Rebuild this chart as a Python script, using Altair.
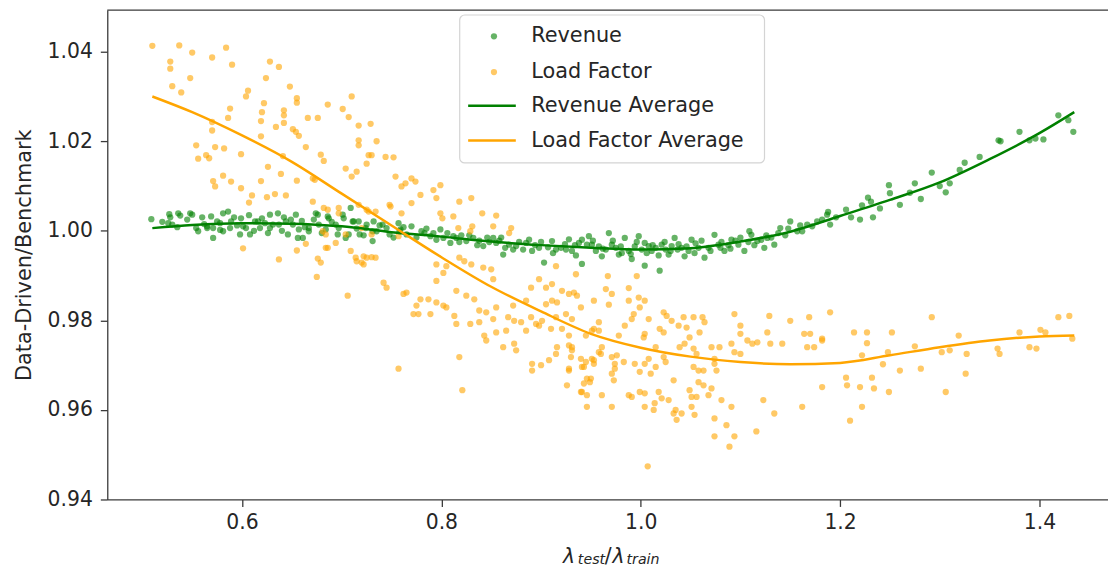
import altair as alt
import pandas as pd

# ---------------- data ----------------
rev_x = [0.509, 0.527, 0.528, 0.536, 0.538, 0.548, 0.550, 0.526, 0.530, 0.554, 0.556, 0.569, 0.571, 0.571,
         0.565, 0.581, 0.586, 0.578, 0.581, 0.588, 0.589, 0.599, 0.598, 0.608, 0.604, 0.613, 0.618, 0.623,
         0.628, 0.636, 0.628, 0.637, 0.644, 0.649, 0.651, 0.654, 0.657, 0.646, 0.656, 0.667, 0.676, 0.677,
         0.686, 0.684, 0.694, 0.696, 0.701, 0.704, 0.711, 0.718, 0.724, 0.731, 0.731, 0.741, 0.748, 0.758,
         0.709, 0.565, 0.575, 0.601, 0.616, 0.631, 0.661, 0.667, 0.674, 0.687, 0.697, 0.707, 0.712,
         0.702, 0.717, 0.725, 0.732, 0.735, 0.745, 0.757, 0.759, 0.765, 0.770, 0.780, 0.789, 0.799, 0.802,
         0.809, 0.815, 0.825, 0.832, 0.842, 0.852, 0.855, 0.862, 0.868, 0.875, 0.885, 0.891, 0.898, 0.903,
         0.911, 0.920, 0.928, 0.931, 0.941, 0.938, 0.946,
         0.941, 0.948, 0.951, 0.955, 0.961, 0.968, 0.971, 0.978, 0.984, 0.988, 0.991, 0.998, 1.004, 1.004,
         1.011, 1.019, 1.021, 1.028, 1.034, 1.037, 1.044, 1.051, 1.058, 1.064, 1.074, 1.078, 1.084, 1.091,
         1.098, 1.104, 1.111, 1.117, 1.124, 1.134, 1.140, 1.150, 1.157, 1.167, 1.177, 1.187,
         1.162, 1.127, 1.109, 1.188, 1.190, 1.182, 1.206, 1.211, 1.220, 1.233, 1.222, 1.228, 1.231, 1.249,
         1.250, 1.260, 1.275, 1.281, 1.306, 1.310, 1.325, 1.320, 1.292, 1.359, 1.361, 1.380, 1.390, 1.396,
         1.404, 1.419, 1.429, 1.434,
         0.785, 0.792, 0.806, 0.812, 0.820, 0.838, 0.846, 0.858, 0.864, 0.878, 0.882, 0.894, 0.907, 0.915,
         0.924, 0.934, 0.958, 0.965, 0.975, 0.981, 0.994, 1.001, 1.008, 1.015, 1.025, 1.031, 1.041, 1.048,
         1.055, 1.068, 1.081, 1.088, 1.095, 1.108, 1.121, 1.131, 1.145,
         0.520, 0.535, 0.545, 0.560, 0.562, 0.578, 0.592, 0.595, 0.607, 0.612, 0.620, 0.626, 0.640, 0.642,
         0.660, 0.663, 0.672, 0.680, 0.690, 0.715, 0.722, 0.738, 0.752, 0.762, 0.775, 0.783, 0.795, 0.818,
         0.828, 0.836, 0.848, 0.860, 0.872, 0.888, 0.900, 0.912, 0.925, 0.935, 0.952, 0.962, 0.972, 0.980,
         0.990, 0.996, 1.006, 1.012, 1.018, 1.024, 1.030, 1.038, 1.046, 1.054, 1.061, 1.070, 1.080, 1.090,
         1.100, 1.114, 1.126, 1.138, 1.148, 1.160, 1.172, 1.196, 1.240, 1.270, 1.300, 1.340]
rev_y = [1.0026, 1.0037, 1.0030, 1.0039, 1.0034, 1.0039, 1.0036, 1.0017, 1.0014, 1.0006, 0.9999, 1.0032, 1.0006, 0.9984,
         1.0006, 1.0039, 1.0043, 1.0017, 0.9999, 1.0006, 1.0021, 1.0028, 0.9992, 0.9992, 1.0006, 1.0021, 1.0006, 1.0017,
         1.0036, 1.0039, 1.0006, 1.0014, 1.0021, 1.0025, 1.0014, 1.0036, 1.0003, 0.9992, 0.9984, 0.9999, 1.0036, 1.0014,
         1.0032, 1.0003, 1.0014, 0.9992, 1.0036, 0.9984, 1.0021, 0.9992, 1.0006, 0.9999, 0.9977, 1.0014, 0.9992, 0.9999,
         1.0051, 1.0010, 1.0021, 1.0010, 1.0021, 1.0014, 0.9984, 1.0006, 1.0039, 1.0028, 1.0006, 0.9992, 1.0021,
         1.0028, 1.0021, 1.0014, 1.0021, 0.9999, 1.0006, 1.0017, 1.0003, 0.9992, 1.0010, 0.9999, 0.9988, 1.0003, 0.9984,
         0.9973, 0.9984, 0.9977, 0.9984, 0.9966, 0.9984, 0.9973, 0.9947, 0.9969, 0.9966, 0.9973, 0.9955, 0.9962, 0.9929,
         0.9977, 0.9962, 0.9981, 0.9955, 0.9926, 0.9973, 0.9969,
         0.9980, 0.9988, 0.9969, 0.9955, 0.9943, 0.9995, 0.9969, 0.9947, 0.9984, 0.9955, 0.9937, 0.9988, 0.9973, 0.9922,
         0.9955, 0.9911, 0.9969, 0.9947, 0.9984, 0.9958, 0.9943, 0.9980, 0.9962, 0.9940, 0.9991, 0.9969, 0.9955, 0.9980,
         0.9969, 0.9955, 0.9991, 0.9977, 0.9962, 0.9969, 1.0006, 1.0021, 0.9999, 1.0014, 1.0021, 1.0036,
         0.9999, 0.9984, 0.9999, 1.0042, 1.0014, 1.0025, 1.0047, 1.0030, 1.0025, 1.0030, 1.0057, 1.0074, 1.0065, 1.0102,
         1.0084, 1.0058, 1.0106, 1.0071, 1.0086, 1.0106, 1.0152, 1.0136, 1.0130, 1.0202, 1.0200, 1.0221, 1.0202, 1.0206,
         1.0204, 1.0258, 1.0247, 1.0221,
         1.0005, 0.9995, 0.9995, 0.9988, 0.9990, 0.9978, 0.9985, 0.9978, 0.9962, 0.9975, 0.9958, 0.9968, 0.9963, 0.9958,
         0.9970, 0.9968, 0.9965, 0.9958, 0.9962, 0.9950, 0.9965, 0.9958, 0.9966, 0.9962, 0.9958, 0.9966, 0.9962, 0.9955,
         0.9972, 0.9962, 0.9975, 0.9968, 0.9978, 0.9975, 0.9980, 0.9985, 0.9990,
         1.0020, 1.0008, 1.0025, 1.0030, 1.0015, 1.0002, 1.0030, 1.0012, 1.0035, 1.0000, 1.0028, 0.9995, 1.0000, 1.0030,
         1.0022, 1.0008, 1.0025, 0.9995, 1.0020, 1.0005, 0.9990, 1.0012, 0.9985, 1.0008, 0.9985, 0.9995, 0.9980, 0.9975,
         0.9990, 0.9968, 0.9975, 0.9985, 0.9958, 0.9980, 0.9975, 0.9950, 0.9958, 0.9945, 0.9978, 0.9960, 0.9978, 0.9965,
         0.9948, 0.9975, 0.9950, 0.9968, 0.9945, 0.9975, 0.9955, 0.9970, 0.9965, 0.9950, 0.9978, 0.9955, 0.9962, 0.9960,
         0.9985, 0.9968, 0.9990, 0.9995, 1.0005, 1.0012, 1.0010, 1.0030, 1.0050, 1.0085, 1.0100, 1.0165]

lf_x = [0.510, 0.537, 0.550, 0.570, 0.584, 0.590, 0.528, 0.528, 0.548, 0.530, 0.539, 0.628, 0.637, 0.624,
        0.648, 0.606, 0.604, 0.655, 0.655, 0.622, 0.686, 0.588, 0.586, 0.620, 0.619, 0.642, 0.642, 0.642,
        0.666, 0.676, 0.701, 0.707, 0.634, 0.651, 0.654, 0.657, 0.570, 0.570, 0.619, 0.554, 0.556, 0.564,
        0.573, 0.582, 0.567, 0.599, 0.641, 0.664, 0.679, 0.682, 0.626, 0.639, 0.704, 0.710, 0.581, 0.589,
        0.571, 0.573, 0.599, 0.619, 0.655, 0.673, 0.610, 0.607, 0.625, 0.633, 0.644, 0.671, 0.601, 0.637,
        0.655, 0.676, 0.664, 0.684, 0.709, 0.686, 0.697, 0.710, 0.717, 0.729, 0.735, 0.717, 0.717, 0.727,
        0.744, 0.752, 0.715, 0.671, 0.754, 0.748, 0.725, 0.730, 0.742, 0.745, 0.706, 0.675, 0.679, 0.715,
        0.722, 0.757, 0.730, 0.725, 0.764, 0.760, 0.770, 0.774, 0.779, 0.799, 0.792, 0.795, 0.770, 0.749,
        0.760, 0.725, 0.734, 0.818, 0.830, 0.799, 0.801, 0.812, 0.841, 0.855, 0.817, 0.831, 0.829, 0.852,
        0.870, 0.868, 0.714, 0.722, 0.795, 0.805, 0.802, 0.818, 0.823, 0.830, 0.842, 0.795, 0.850, 0.852,
        0.765, 0.762, 0.779, 0.775, 0.772, 0.777, 0.787, 0.795, 0.802, 0.805, 0.789, 0.815, 0.825, 0.833,
        0.813, 0.815, 0.829, 0.838, 0.845, 0.852, 0.838, 0.867, 0.873, 0.880, 0.890, 0.895, 0.898, 0.885,
        0.872, 0.855, 0.898, 0.905, 0.911, 0.890, 0.915, 0.935, 0.921, 0.928, 0.936, 0.905, 0.916, 0.915,
        0.931, 0.940, 0.843, 0.845, 0.855, 0.865, 0.862, 0.873, 0.875, 0.885, 0.891, 0.900, 0.891, 0.908,
        0.916, 0.915, 0.928, 0.931, 0.928, 0.941, 0.943, 0.946, 0.926, 0.818, 0.821,
        0.967, 0.996, 0.965, 0.971, 0.988, 0.953, 0.968, 0.988, 0.998, 1.004, 0.999, 0.993, 0.991, 1.008,
        0.958, 0.953, 0.958, 0.984, 0.978, 1.004, 1.003, 1.023, 1.026, 1.031, 1.038, 1.019, 1.023, 1.043,
        1.046, 1.053, 1.062, 1.064, 1.049, 1.059, 1.094, 1.100, 1.100, 1.107, 1.112, 1.117, 1.129, 1.127,
        1.130, 1.142, 1.150, 1.169, 1.164, 1.170, 1.167, 1.174, 1.182, 1.091, 1.094, 1.100, 1.071, 1.079,
        1.074, 1.074, 1.076, 1.053, 1.056, 1.053, 1.058, 1.063, 1.058, 1.063, 1.039, 1.044, 1.015, 1.008,
        1.004, 1.015, 1.010, 1.023, 1.025, 0.994, 0.999, 0.961, 0.960, 0.951, 0.945, 0.943, 0.953, 0.976,
        0.974, 0.971, 0.973, 0.983, 0.946, 0.949, 1.033, 0.941, 0.961, 0.946, 0.971, 0.988, 0.999, 1.004,
        1.013, 1.018, 1.028, 1.035, 1.036, 1.049, 1.056, 1.054, 1.068, 1.071, 1.081, 1.091, 1.074, 1.086,
        1.074, 1.094, 1.089, 1.116, 1.123, 1.134, 1.162, 1.182, 1.007,
        1.190, 1.182, 1.214, 1.227, 1.252, 1.227, 1.222, 1.248, 1.275, 1.292, 1.302, 1.310, 1.327, 1.319,
        1.243, 1.260, 1.281, 1.206, 1.207, 1.220, 1.232, 1.234, 1.249, 1.222, 1.210, 1.326, 1.306, 1.358,
        1.360, 1.380, 1.390, 1.397, 1.401, 1.406, 1.419, 1.430, 1.433,
        0.682, 0.697, 0.717, 0.727, 0.686, 0.694, 0.720, 0.734, 0.681, 0.684, 0.704, 0.720, 0.730, 0.757,
        0.940, 0.928, 0.950, 0.953, 0.958, 0.971, 0.974, 1.051, 1.051, 1.041, 1.033, 1.021, 1.014, 1.004,
        0.991, 0.945, 0.951, 0.940, 0.928, 0.921, 0.910, 0.931, 0.930, 0.901, 0.911, 0.933, 0.925]
lf_y = [1.0413, 1.0414, 1.0398, 1.0387, 1.0409, 1.0371, 1.0378, 1.0362, 1.0341, 1.0323, 1.0309, 1.0378, 1.0366, 1.0341,
        1.0322, 1.0313, 1.0300, 1.0296, 1.0286, 1.0285, 1.0282, 1.0273, 1.0252, 1.0265, 1.0245, 1.0269, 1.0258, 1.0241,
        1.0252, 1.0252, 1.0272, 1.0254, 1.0232, 1.0227, 1.0221, 1.0212, 1.0243, 1.0224, 1.0211, 1.0191, 1.0161, 1.0169,
        1.0187, 1.0184, 1.0162, 1.0171, 1.0167, 1.0187, 1.0170, 1.0156, 1.0143, 1.0127, 1.0139, 1.0121, 1.0123, 1.0110,
        1.0111, 1.0099, 1.0095, 1.0111, 1.0112, 1.0114, 1.0079, 1.0063, 1.0075, 1.0082, 1.0079, 1.0065, 0.9961, 0.9936,
        0.9956, 0.9938, 0.9971, 0.9962, 0.9955, 1.0047, 1.0039, 1.0300, 1.0235, 1.0239, 1.0200, 1.0202, 1.0191, 1.0169,
        1.0165, 1.0164, 1.0132, 1.0117, 1.0121, 1.0058, 0.9940, 0.9941, 0.9884, 0.9873, 0.9855, 0.9897, 0.9929, 0.9932,
        0.9925, 0.9692, 1.0169, 1.0150, 1.0106, 1.0099, 1.0117, 1.0110, 1.0080, 1.0102, 1.0091, 1.0073, 1.0062, 1.0054,
        1.0039, 1.0047, 1.0043, 1.0065, 1.0073, 1.0039, 1.0028, 1.0032, 1.0039, 1.0034, 1.0006, 1.0010, 0.9999, 1.0010,
        1.0006, 0.9995, 0.9940, 0.9943, 0.9925, 0.9921, 0.9906, 0.9940, 0.9932, 0.9925, 0.9918, 0.9888, 0.9914, 0.9892,
        0.9862, 0.9859, 0.9847, 0.9833, 0.9814, 0.9814, 0.9847, 0.9840, 0.9833, 0.9829, 0.9814, 0.9866, 0.9855, 0.9847,
        0.9810, 0.9792, 0.9792, 0.9796, 0.9818, 0.9803, 0.9822, 0.9807, 0.9799, 0.9796, 0.9807, 0.9792, 0.9788, 0.9844,
        0.9833, 0.9829, 0.9892, 0.9873, 0.9881, 0.9873, 0.9921, 0.9903, 0.9866, 0.9859, 0.9855, 0.9836, 0.9840, 0.9807,
        0.9803, 0.9829, 0.9766, 0.9755, 0.9773, 0.9777, 0.9740, 0.9748, 0.9733, 0.9777, 0.9703, 0.9700, 0.9688, 0.9711,
        0.9740, 0.9725, 0.9744, 0.9733, 0.9688, 0.9696, 0.9659, 0.9633, 0.9655, 0.9718, 0.9644,
        0.9899, 0.9899, 0.9870, 0.9859, 0.9872, 0.9844, 0.9835, 0.9844, 0.9851, 0.9844, 0.9829, 0.9814, 0.9803, 0.9803,
        0.9796, 0.9781, 0.9777, 0.9788, 0.9766, 0.9770, 0.9762, 0.9818, 0.9810, 0.9799, 0.9788, 0.9781, 0.9773, 0.9807,
        0.9784, 0.9807, 0.9807, 0.9796, 0.9762, 0.9773, 0.9814, 0.9788, 0.9770, 0.9755, 0.9748, 0.9751, 0.9810, 0.9773,
        0.9748, 0.9748, 0.9799, 0.9807, 0.9770, 0.9770, 0.9740, 0.9740, 0.9755, 0.9748, 0.9729, 0.9725, 0.9740, 0.9740,
        0.9714, 0.9703, 0.9688, 0.9737, 0.9725, 0.9696, 0.9688, 0.9688, 0.9662, 0.9655, 0.9740, 0.9748, 0.9740, 0.9714,
        0.9703, 0.9696, 0.9681, 0.9718, 0.9707, 0.9703, 0.9685, 0.9740, 0.9725, 0.9714, 0.9707, 0.9696, 0.9703, 0.9722,
        0.9703, 0.9681, 0.9666, 0.9707, 0.9670, 0.9662, 0.9666, 0.9640, 0.9633, 0.9607, 0.9607, 0.9633, 0.9640, 0.9607,
        0.9600, 0.9640, 0.9622, 0.9600, 0.9578, 0.9644, 0.9629, 0.9589, 0.9633, 0.9648, 0.9622, 0.9607, 0.9581, 0.9566,
        0.9541, 0.9541, 0.9518, 0.9552, 0.9622, 0.9592, 0.9607, 0.9651, 0.9474,
        0.9818, 0.9759, 0.9773, 0.9773, 0.9773, 0.9749, 0.9722, 0.9729, 0.9742, 0.9807, 0.9729, 0.9733, 0.9725, 0.9766,
        0.9702, 0.9688, 0.9692, 0.9672, 0.9655, 0.9651, 0.9672, 0.9648, 0.9640, 0.9607, 0.9576, 0.9681, 0.9640, 0.9737,
        0.9725, 0.9773, 0.9740, 0.9737, 0.9779, 0.9773, 0.9807, 0.9810, 0.9759,
        1.0051, 1.0051, 1.0058, 1.0043, 0.9962, 0.9973, 0.9929, 0.9940, 0.9999, 0.9992, 0.9992, 1.0006, 0.9992, 0.9988,
        0.9640, 0.9692, 0.9670, 0.9711, 0.9729, 0.9718, 0.9692, 0.9629, 0.9607, 0.9592, 0.9592, 0.9626, 0.9615, 0.9637,
        0.9629, 0.9766, 0.9777, 0.9714, 0.9766, 0.9781, 0.9781, 0.9740, 0.9718, 0.9799, 0.9844, 0.9862, 0.9814]

avg_x = [0.51, 0.55, 0.60, 0.65, 0.70, 0.75, 0.80, 0.85, 0.90, 0.95, 1.00,
         1.05, 1.10, 1.15, 1.20, 1.25, 1.30, 1.35, 1.40, 1.435]
rev_avg = [1.0006, 1.0013, 1.0017, 1.0016, 1.0010, 0.9997, 0.9987, 0.9976, 0.9968, 0.9962, 0.9958,
           0.9961, 0.9976, 0.9998, 1.0033, 1.0069, 1.0108, 1.0160, 1.0218, 1.0265]
lf_avg = [1.0300, 1.0265, 1.0213, 1.0154, 1.0083, 1.0012, 0.9941, 0.9875, 0.9820, 0.9770, 0.9739,
          0.9719, 0.9707, 0.9702, 0.9705, 0.9722, 0.9740, 0.9755, 0.9764, 0.9766]

x_ticks = [0.6, 0.8, 1.0, 1.2, 1.4]
y_ticks = [0.94, 0.96, 0.98, 1.00, 1.02, 1.04]

point_series = ["Revenue", "Load Factor"]
line_series = ["Revenue Average", "Load Factor Average"]
series_colors = ["green", "orange"]

# ---------------- tables ----------------
pts = pd.DataFrame({
    "x": rev_x + lf_x,
    "y": rev_y + lf_y,
    "series": [point_series[0]] * len(rev_x) + [point_series[1]] * len(lf_x),
})
avg = pd.DataFrame({
    "x": avg_x + avg_x,
    "y": rev_avg + lf_avg,
    "series": [line_series[0]] * len(avg_x) + [line_series[1]] * len(avg_x),
})

W, H = 1008, 493
FONT = "DejaVu Sans"
TXT = "#262626"
SPINE = "#3a3a3a"

xs = alt.Scale(domain=[0.4648, 1.4688], nice=False, zero=False)
ys = alt.Scale(domain=[0.94, 1.0493], nice=False, zero=False)

x_enc = alt.X("x:Q", scale=xs,
              axis=alt.Axis(values=x_ticks, format=".1f", title=None))
y_enc = alt.Y("y:Q", scale=ys,
              axis=alt.Axis(values=y_ticks, format=".2f", title="Data-Driven/Benchmark",
                            titlePadding=13))

points = alt.Chart(pts).mark_circle(size=40, opacity=0.6).encode(
    x=x_enc, y=y_enc,
    fill=alt.Fill("series:N",
                  scale=alt.Scale(domain=point_series, range=series_colors),
                  legend=alt.Legend(orient="none", legendX=379, legendY=16, title=None,
                                    padding=0, symbolType="circle", symbolSize=40,
                                    symbolOpacity=0.6, symbolStrokeWidth=0,
                                    labelOffset=27, rowPadding=14, labelLimit=0,
                                    labelFontSize=21, labelFont=FONT, labelColor=TXT)),
)

lines = alt.Chart(avg).mark_line(strokeWidth=2.5, interpolate="monotone").encode(
    x=x_enc, y=y_enc,
    stroke=alt.Stroke("series:N",
                      scale=alt.Scale(domain=line_series, range=series_colors),
                      legend=alt.Legend(orient="none", legendX=376, legendY=85, title=None,
                                        padding=0, symbolType="M-2.4,0L2.4,0", symbolSize=400,
                                        symbolStrokeWidth=2.5, labelLimit=0,
                                        labelOffset=28, rowPadding=13,
                                        labelFontSize=21, labelFont=FONT, labelColor=TXT)),
)

one = pd.DataFrame({"k": [0]})

legend_box = alt.Chart(one).mark_rect(
    cornerRadius=5, fill="white", fillOpacity=0.8, stroke="#d4d4d4", strokeWidth=1.2
).encode(x=alt.value(355), x2=alt.value(662), y=alt.value(5), y2=alt.value(154))

top_spine = alt.Chart(one).mark_rule(color=SPINE, strokeWidth=1.3).encode(
    x=alt.value(0), x2=alt.value(W), y=alt.value(0))

def piece(txt, px, py, size, italic=True):
    kw = dict(text=txt, font=FONT, fontSize=size, align="left", baseline="alphabetic", color=TXT)
    if italic:
        kw["fontStyle"] = "italic"
    return alt.Chart(one).mark_text(**kw).encode(x=alt.value(px), y=alt.value(py))

xtitle = [
    piece("λ", 459, 557, 20.5),
    piece("test", 474, 558, 14.3),
    piece("/", 501, 557, 20.5, italic=False),
    piece("λ", 509, 557, 20.5),
    piece("train", 523, 558, 14.3),
]

chart = alt.layer(points, lines, legend_box, top_spine, *xtitle).properties(
    width=W, height=H,
    autosize=alt.AutoSizeParams(type="none"),
    padding={"left": 100, "top": 0, "right": 0, "bottom": 72},
).configure_view(strokeWidth=0).configure_axis(
    grid=False,
    labelFont=FONT, labelFontSize=20.5, labelColor=TXT,
    titleFont=FONT, titleFontSize=21, titleColor=TXT, titleFontWeight="normal",
    domainColor=SPINE, domainWidth=1.3, tickColor=SPINE, tickWidth=1.3, tickSize=7,
    labelPadding=6,
).configure_axisY(labelPadding=8)

chart.save("out.html", embed_options={"renderer": "svg", "actions": False})
